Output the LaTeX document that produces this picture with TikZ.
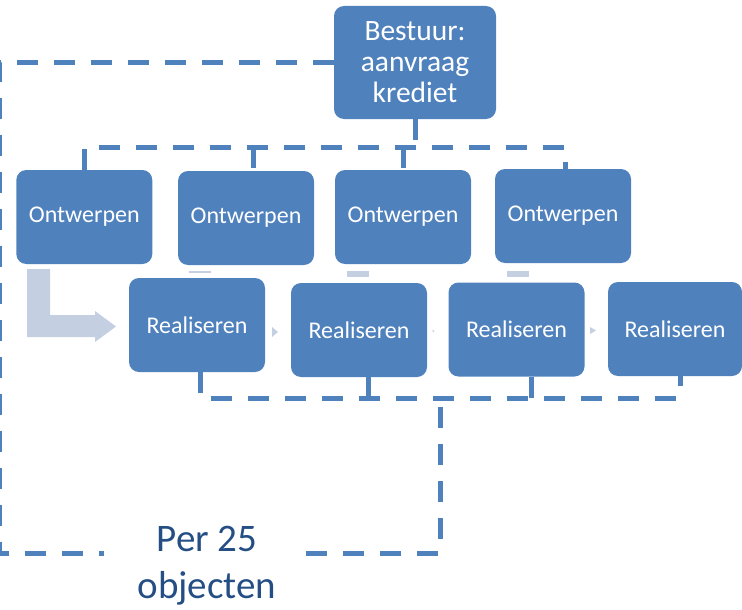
\documentclass[tikz,border=0pt]{standalone}
\usepackage{fontspec}
\setmainfont{Carlito}
\definecolor{boxblue}{HTML}{4F81BD}
\definecolor{lightarr}{HTML}{C5CFE2}
\definecolor{txtblue}{RGB}{36,78,132}
\tikzset{
  box/.style={fill=boxblue, rounded corners=10pt, text=white, inner sep=0pt,
    minimum width=136pt, minimum height=94pt, align=center,
    font=\fontsize{24}{28}\selectfont},
  conn/.style={draw=boxblue, line width=5pt, dash pattern=on 21pt off 16pt},
  light/.style={fill=lightarr, draw=none}
}
\begin{document}
\begin{tikzpicture}[x=1pt,y=-1pt]
\useasboundingbox (0,0) rectangle (742,610);
% nodes
\node[box, minimum width=162pt, minimum height=113pt,
  font=\fontsize{29.5}{31}\selectfont] (b) at (415,62.5) {Bestuur:\\aanvraag\\krediet};
\node[box] (o1) at (84.3,217) {Ontwerpen};
\node[box] (o2) at (246,218) {Ontwerpen};
\node[box] (o3) at (403,217) {Ontwerpen};
\node[box] (o4) at (563,216) {Ontwerpen};
\node[box] (r1) at (197,325) {Realiseren};
\node[box] (r2) at (359,330) {Realiseren};
\node[box] (r3) at (516.5,329.5) {Realiseren};
\node[box, minimum width=134pt] (r4) at (675,329) {Realiseren};
\node[text=txtblue, align=center, font=\fontsize{39}{47}\selectfont, inner sep=0pt]
  (per) at (207,566) {Per 25\\objecten};
% junction coordinates
\coordinate (tj) at (415,147);
\coordinate (rb) at (440,398);
\coordinate (lc) at (-1,553);
\coordinate (pl) at (104,553);
\coordinate (pr) at (306,553);
% top connectors
\draw[conn] (b.south) -- (tj);
\draw[conn] (o1.north) -- (o1.north |- tj) -- ([xshift=2pt]o4.north |- tj) -- ([xshift=2pt]o4.north);
\draw[conn] ([xshift=7pt]o2.north |- tj) -- ([xshift=7pt]o2.north);
\draw[conn] (o3.north |- tj) -- (o3.north);
% bottom connectors
\draw[conn] ([xshift=3pt]r1.south) -- ([xshift=3pt]r1.south |- rb) -- ([xshift=5pt]r4.south |- rb) -- ([xshift=5pt]r4.south);
\draw[conn] ([xshift=9pt]r2.south) -- ([xshift=9pt]r2.south |- rb);
\draw[conn] ([xshift=14.5pt]r3.south) -- ([xshift=14.5pt]r3.south |- rb);
% loop around
\draw[conn] (b.west) -| (lc) -- (pl);
\draw[conn] (pr) -| (rb);
% light arrows
\fill[light] (27,269) -- (50,269) -- (50,315) -- (95,315) -- (95,311) -- (116,326.5)
  -- (95,342) -- (95,337) -- (27,337) -- cycle;
\fill[light] (189,271) rectangle (211,273);
\fill[light] (347,271) rectangle (369,277);
\fill[light] (507,271) rectangle (529,277);
\fill[light] (272,327) -- (278,332) -- (272,337) -- cycle;
\fill[light] (432.5,329.5) -- (434.5,331) -- (432.5,332.5) -- cycle;
\fill[light] (590,327) -- (596,330.5) -- (590,334) -- cycle;
\end{tikzpicture}
\end{document}
